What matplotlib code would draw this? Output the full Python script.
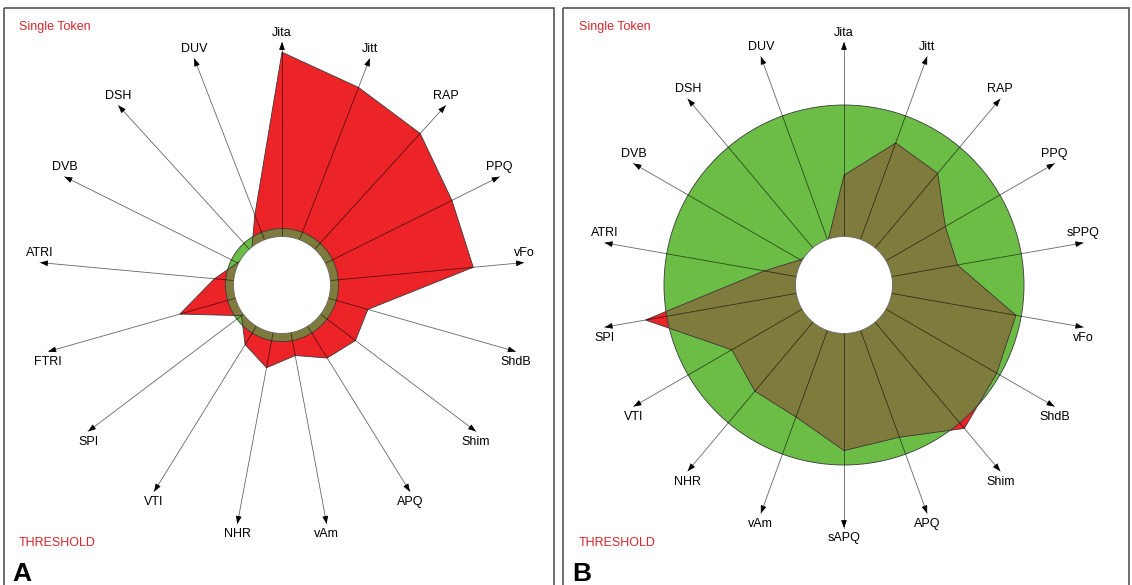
import numpy as np
import matplotlib
matplotlib.use('Agg')
import matplotlib.pyplot as plt
from matplotlib.patches import Circle, Polygon, Rectangle

plt.rcParams['font.family'] = ['Liberation Sans', 'DejaVu Sans']

# panel A - 17 parameters, value relative to threshold (1.0 = threshold circle)
labels_a = ['Jita', 'Jitt', 'RAP', 'PPQ', 'vFo', 'ShdB', 'Shim', 'APQ', 'vAm',
            'NHR', 'VTI', 'SPI', 'FTRI', 'ATRI', 'DVB', 'DSH', 'DUV']
values_a = [4.12, 3.75, 3.63, 3.36, 3.40, 1.58, 1.63, 1.52, 1.27,
            1.49, 1.24, 0.90, 1.88, 1.20, 0.88, 0.80, 1.33]

# panel B - 18 parameters
labels_b = ['Jita', 'Jitt', 'RAP', 'PPQ', 'sPPQ', 'vFo', 'ShdB', 'Shim', 'APQ',
            'sAPQ', 'vAm', 'NHR', 'VTI', 'SPI', 'ATRI', 'DVB', 'DSH', 'DUV']
values_b = [0.61, 0.84, 0.81, 0.65, 0.64, 0.97, 0.98, 1.04, 0.90,
            0.92, 0.78, 0.77, 0.72, 1.12, 0.45, 0.28, 0.25, 0.26]

RED = '#ec2327'
GREEN = '#6bbd45'
OLIVE = '#7e7b3c'
TXT_RED = '#d8262b'
EDGE = '#3a3a3a'


def draw_panel(ax, cx, cy, labels, values, thr_px, letter, x0, x1):
    n = len(labels)
    ang = np.arange(n) * 2 * np.pi / n
    r = np.asarray(values) * thr_px
    xy = np.column_stack([cx + r * np.sin(ang), cy - r * np.cos(ang)])

    # threshold disc, patient polygon, overlap
    ax.add_patch(Circle((cx, cy), thr_px, fc=GREEN, ec='none', zorder=1))
    ax.add_patch(Polygon(xy, closed=True, fc=RED, ec='none', zorder=2))
    over = Polygon(xy, closed=True, fc=OLIVE, ec='none', zorder=3)
    ax.add_patch(over)
    over.set_clip_path(Circle((cx, cy), thr_px, transform=ax.transData))
    ax.add_patch(Polygon(xy, closed=True, fill=False, ec=EDGE, lw=0.6, zorder=4))
    ax.add_patch(Circle((cx, cy), thr_px, fill=False, ec=EDGE, lw=0.6, zorder=4))

    # spokes with arrows and labels
    tip = 243
    for a, lab in zip(ang, labels):
        s, c = np.sin(a), np.cos(a)
        tx, ty = cx + tip * s, cy - tip * c
        ax.plot([cx, tx], [cy, ty], color='k', lw=0.6, alpha=0.6, zorder=5)
        ax.annotate('', xy=(tx, ty), xytext=(cx + (tip - 6) * s, cy - (tip - 6) * c),
                    arrowprops=dict(arrowstyle='-|>,head_length=0.45,head_width=0.17',
                                    color='k', lw=0.6, shrinkA=0, shrinkB=0),
                    zorder=6)
        dy = -9.5 if c > 0 else 10.5
        ax.text(tx, ty + dy, lab, ha='center', va='center', fontsize=9, zorder=8)

    # hole in the middle
    ax.add_patch(Circle((cx, cy), 48.5, fc='white', ec='#666666', lw=0.6, zorder=7))

    # frame and captions
    ax.add_patch(Rectangle((x0, 8), x1 - x0, 600, fill=False, ec='#555555',
                           lw=1.2, zorder=10))
    ax.text(x0 + 15.5, 27, 'Single Token', color=TXT_RED, fontsize=9,
            ha='left', va='center')
    ax.text(x0 + 15, 543, 'THRESHOLD', color=TXT_RED, fontsize=9,
            ha='left', va='center')
    ax.text(x0 + 9, 581, letter, fontsize=19, fontweight='bold',
            ha='left', va='baseline')


fig = plt.figure(figsize=(11.32, 5.85), dpi=100)
ax = fig.add_axes([0, 0, 1, 1])
ax.set_xlim(0, 1132)
ax.set_ylim(585, 0)
ax.axis('off')

draw_panel(ax, 282, 285, labels_a, values_a, 56.5, 'A', 3.5, 553.6)
draw_panel(ax, 844, 285, labels_b, values_b, 180, 'B', 563.3, 1128.5)

fig.savefig('out.png', dpi=100)
